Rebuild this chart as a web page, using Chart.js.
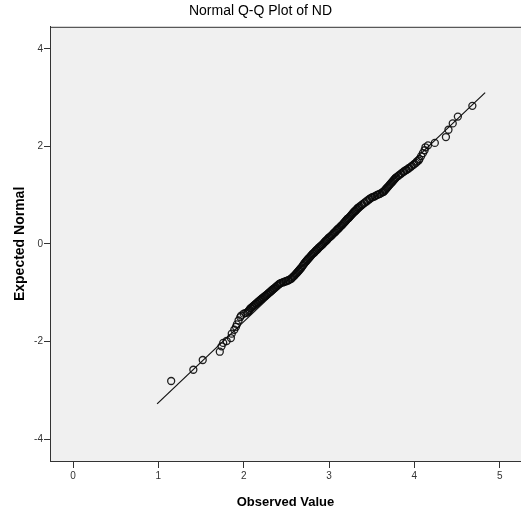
<!DOCTYPE html>
<html>
<head>
<meta charset="utf-8">
<script src="https://cdn.jsdelivr.net/npm/chart.js@4/dist/chart.umd.min.js"></script>
<style>
  html, body { margin: 0; padding: 0; background: #ffffff; overflow: hidden; }
  #wrap { width: 521px; height: 515px; }
</style>
</head>
<body>
<div id="wrap"><canvas id="c" width="521" height="515"></canvas></div>
<script>
const observed = [
  1.15, 1.41, 1.52, 1.72, 1.74, 1.76, 1.80, 1.85, 1.86, 1.89, 1.91, 1.92, 1.94, 1.96, 1.97,
  2.00, 2.02, 2.04, 2.05, 2.06, 2.07, 2.08, 2.09, 2.10, 2.11, 2.12, 2.13, 2.14, 2.15, 2.16,
  2.17, 2.18, 2.19, 2.20, 2.21, 2.22, 2.23, 2.24, 2.25, 2.26, 2.27, 2.28, 2.29, 2.30, 2.31,
  2.32, 2.33, 2.34, 2.35, 2.36, 2.37, 2.38, 2.39, 2.40, 2.41, 2.42, 2.43, 2.44, 2.46, 2.47,
  2.49, 2.50, 2.52, 2.53, 2.55, 2.56, 2.57, 2.58, 2.59, 2.60, 2.61, 2.62, 2.63, 2.64, 2.65,
  2.66, 2.67, 2.68, 2.69, 2.70, 2.71, 2.72, 2.73, 2.74, 2.75, 2.76, 2.77, 2.78, 2.79, 2.80,
  2.81, 2.82, 2.83, 2.84, 2.85, 2.86, 2.87, 2.88, 2.89, 2.90, 2.91, 2.92, 2.93, 2.94, 2.95,
  2.96, 2.97, 2.98, 2.99, 3.00, 3.01, 3.02, 3.03, 3.04, 3.05, 3.06, 3.07, 3.08, 3.09, 3.10,
  3.11, 3.12, 3.13, 3.14, 3.15, 3.16, 3.17, 3.18, 3.19, 3.20, 3.21, 3.22, 3.23, 3.24, 3.25,
  3.26, 3.27, 3.28, 3.29, 3.30, 3.31, 3.32, 3.33, 3.34, 3.35, 3.36, 3.38, 3.39, 3.41, 3.42,
  3.44, 3.45, 3.47, 3.48, 3.50, 3.51, 3.53, 3.54, 3.56, 3.57, 3.59, 3.60, 3.62, 3.63, 3.64,
  3.65, 3.66, 3.67, 3.68, 3.69, 3.70, 3.71, 3.72, 3.73, 3.74, 3.75, 3.76, 3.77, 3.78, 3.79,
  3.81, 3.82, 3.84, 3.85, 3.87, 3.88, 3.90, 3.91, 3.93, 3.94, 3.96, 3.97, 3.99, 4.00, 4.02,
  4.03, 4.05, 4.06, 4.08, 4.10, 4.12, 4.13, 4.16, 4.24, 4.37, 4.40, 4.45, 4.51, 4.68
];
const expected = [
  -2.81, -2.58, -2.38, -2.21, -2.10, -2.03, -1.99, -1.93, -1.84, -1.76, -1.70, -1.65, -1.57, -1.50, -1.47,
  -1.43, -1.42, -1.41, -1.39, -1.37, -1.35, -1.32, -1.31, -1.29, -1.28, -1.26, -1.25, -1.23, -1.22, -1.20,
  -1.19, -1.17, -1.16, -1.14, -1.13, -1.11, -1.10, -1.08, -1.07, -1.06, -1.04, -1.03, -1.01, -1.00, -0.98,
  -0.97, -0.95, -0.94, -0.92, -0.91, -0.89, -0.88, -0.86, -0.85, -0.83, -0.82, -0.81, -0.80, -0.79, -0.78,
  -0.77, -0.76, -0.75, -0.74, -0.72, -0.71, -0.69, -0.67, -0.66, -0.64, -0.62, -0.60, -0.58, -0.56, -0.54,
  -0.52, -0.50, -0.48, -0.45, -0.43, -0.40, -0.38, -0.36, -0.34, -0.32, -0.30, -0.28, -0.26, -0.24, -0.22,
  -0.20, -0.19, -0.17, -0.15, -0.13, -0.12, -0.10, -0.08, -0.06, -0.05, -0.03, -0.02, 0.00, 0.02, 0.04,
  0.06, 0.07, 0.09, 0.11, 0.13, 0.14, 0.16, 0.17, 0.19, 0.21, 0.23, 0.24, 0.26, 0.28, 0.30,
  0.31, 0.33, 0.35, 0.37, 0.38, 0.40, 0.42, 0.44, 0.46, 0.48, 0.50, 0.52, 0.53, 0.55, 0.57,
  0.59, 0.61, 0.63, 0.65, 0.67, 0.68, 0.70, 0.72, 0.74, 0.75, 0.77, 0.79, 0.81, 0.83, 0.85,
  0.87, 0.89, 0.91, 0.93, 0.95, 0.96, 0.97, 0.98, 1.00, 1.01, 1.02, 1.03, 1.05, 1.06, 1.07,
  1.09, 1.11, 1.13, 1.15, 1.17, 1.19, 1.21, 1.23, 1.25, 1.27, 1.29, 1.31, 1.33, 1.35, 1.37,
  1.39, 1.41, 1.43, 1.45, 1.47, 1.49, 1.51, 1.52, 1.54, 1.56, 1.58, 1.60, 1.62, 1.64, 1.66,
  1.69, 1.71, 1.74, 1.80, 1.86, 1.92, 1.98, 2.02, 2.07, 2.19, 2.34, 2.47, 2.61, 2.83
];
// Reference line end points
const lineX = [0.985, 4.83];
const lineY = [-3.28, 3.10];
// Tick labels
const xTicks = [0, 1, 2, 3, 4, 5];
const yTicks = [-4, -2, 0, 2, 4];

const pts = observed.map((v, i) => ({ x: v, y: expected[i] }));
const linePts = lineX.map((v, i) => ({ x: v, y: lineY[i] }));

const FONT = '"Liberation Sans", Arial, sans-serif';

const frame = {
  id: 'frame',
  beforeDraw(chart) {
    const { ctx, chartArea: a } = chart;
    ctx.save();
    ctx.fillStyle = '#f0f0f0';
    ctx.fillRect(a.left, a.top, a.right - a.left, a.bottom - a.top);
    ctx.restore();
  },
  afterDraw(chart) {
    const { ctx, chartArea: a } = chart;
    ctx.save();
    ctx.strokeStyle = '#333333';
    ctx.lineWidth = 1;
    ctx.beginPath();
    ctx.moveTo(a.left + 0.5, a.bottom);
    ctx.lineTo(a.left + 0.5, a.top + 0.5);
    ctx.lineTo(a.right, a.top + 0.5);
    ctx.stroke();
    ctx.restore();
  }
};

new Chart(document.getElementById('c'), {
  type: 'scatter',
  data: {
    datasets: [
      {
        label: 'Fit',
        type: 'line',
        data: linePts,
        showLine: true,
        borderColor: '#111111',
        borderWidth: 1.2,
        pointRadius: 0,
        fill: false,
        order: 2
      },
      {
        label: 'ND',
        data: pts,
        pointRadius: 3.5,
        pointBorderWidth: 1.3,
        pointBorderColor: 'rgba(10,10,10,0.9)',
        pointBackgroundColor: 'rgba(0,0,0,0)',
        order: 1
      }
    ]
  },
  options: {
    responsive: false,
    animation: false,
    devicePixelRatio: 1,
    layout: { autoPadding: false, padding: { left: 0, right: 0, top: 0, bottom: 0 } },
    plugins: {
      legend: { display: false },
      tooltip: { enabled: false },
      title: {
        display: true,
        text: 'Normal Q-Q Plot of ND',
        color: '#000000',
        font: { family: FONT, size: 14, weight: 'normal', lineHeight: 1.2 },
        padding: { top: 3, bottom: 7 }
      }
    },
    scales: {
      x: {
        type: 'linear',
        min: -0.27,
        max: 5.25,
        afterBuildTicks(s) { s.ticks = xTicks.map(v => ({ value: v })); },
        afterFit(s) { s.height = 54; s.paddingLeft = 0; s.paddingRight = 0; },
        grid: { display: true, drawOnChartArea: false, drawTicks: true, tickLength: 7, color: '#333333', tickColor: '#333333' },
        border: { display: true, color: '#333333', width: 1 },
        ticks: { color: '#333333', padding: 2, font: { family: FONT, size: 10 }, maxRotation: 0 },
        title: {
          display: true,
          text: 'Observed Value',
          color: '#000000',
          font: { family: FONT, size: 13, weight: 'bold', lineHeight: 1.2 },
          padding: { top: 0, bottom: 5 }
        }
      },
      y: {
        type: 'linear',
        min: -4.45,
        max: 4.45,
        afterBuildTicks(s) { s.ticks = yTicks.map(v => ({ value: v })); },
        afterFit(s) { s.width = 50; },
        grid: { display: true, drawOnChartArea: false, drawTicks: true, tickLength: 6, color: '#333333', tickColor: '#333333' },
        border: { display: true, color: '#333333', width: 1 },
        ticks: { color: '#333333', padding: 1, font: { family: FONT, size: 10 } },
        title: {
          display: true,
          text: 'Expected Normal',
          color: '#000000',
          font: { family: FONT, size: 14, weight: 'bold', lineHeight: 1.2 },
          padding: { top: 12, bottom: 0 }
        }
      }
    }
  },
  plugins: [frame]
});
</script>
</body>
</html>
